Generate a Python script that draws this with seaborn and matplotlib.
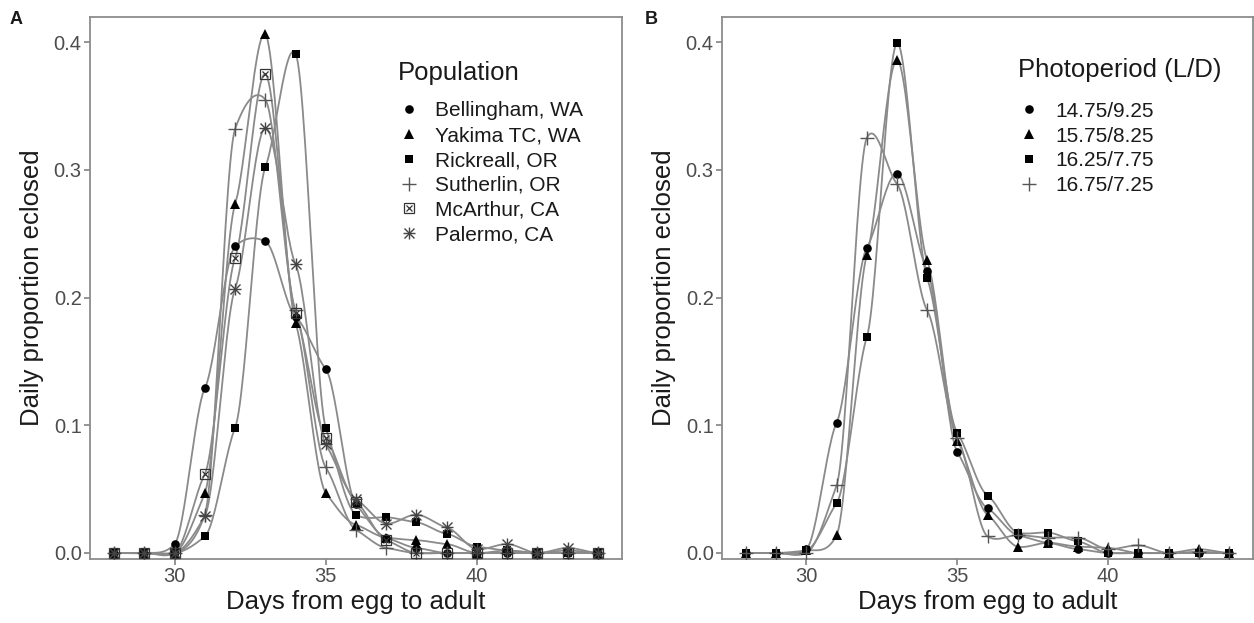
import numpy as np
import pandas as pd
import matplotlib
matplotlib.use("Agg")
import matplotlib.pyplot as plt
import seaborn as sns
from matplotlib.lines import Line2D
from matplotlib.legend_handler import HandlerTuple

# ---------------- data ----------------
days = list(range(28, 45))

# Panel A: populations
pop_names = ["Bellingham, WA", "Yakima TC, WA", "Rickreall, OR",
             "Sutherlin, OR", "McArthur, CA", "Palermo, CA"]
bellingham = [0, 0, 0.007, 0.129, 0.240, 0.244, 0.185, 0.144, 0.038, 0.012, 0.004, 0, 0, 0, 0, 0, 0]
yakima     = [0, 0, 0, 0.047, 0.273, 0.406, 0.180, 0.047, 0.022, 0.012, 0.010, 0.007, 0, 0.002, 0, 0.002, 0]
rickreall  = [0, 0, 0, 0.013, 0.098, 0.302, 0.391, 0.098, 0.030, 0.028, 0.024, 0.015, 0.005, 0.002, 0, 0, 0]
sutherlin  = [0, 0, 0, 0.030, 0.332, 0.355, 0.190, 0.067, 0.018, 0.004, 0, 0, 0, 0, 0, 0, 0]
mcarthur   = [0, 0, 0, 0.062, 0.231, 0.375, 0.188, 0.090, 0.040, 0.010, 0, 0, 0, 0, 0, 0, 0]
palermo    = [0, 0, 0, 0.029, 0.207, 0.333, 0.226, 0.085, 0.042, 0.023, 0.030, 0.020, 0.003, 0.007, 0, 0.004, 0]

# Panel B: photoperiods
photo_names = ["14.75/9.25", "15.75/8.25", "16.25/7.75", "16.75/7.25"]
p1475 = [0, 0, 0.003, 0.102, 0.239, 0.297, 0.221, 0.079, 0.035, 0.014, 0.008, 0.003, 0, 0, 0, 0, 0]
p1575 = [0, 0, 0.002, 0.014, 0.233, 0.386, 0.229, 0.088, 0.030, 0.005, 0.008, 0.005, 0.004, 0, 0, 0.003, 0]
p1625 = [0, 0, 0.002, 0.039, 0.169, 0.399, 0.215, 0.094, 0.045, 0.016, 0.016, 0.009, 0, 0, 0, 0, 0]
p1675 = [0, 0, 0, 0.053, 0.325, 0.289, 0.190, 0.090, 0.013, 0.014, 0.012, 0.012, 0.003, 0.006, 0, 0.001, 0]

x_ticks = [30, 35, 40]
y_ticks = [0.0, 0.1, 0.2, 0.3, 0.4]
x_label = "Days from egg to adult"
y_label = "Daily proportion eclosed"

# ---------------- helpers ----------------
LINE_C = "#8a8a8a"
AX_C = "#8c8c8c"
TXT_C = "#4d4d4d"


def smooth(x, y, n=25, k=0.4):
    """Cubic Hermite curve (damped Catmull-Rom tangents) through the data points."""
    x = np.asarray(x, float)
    y = np.asarray(y, float)
    m = np.empty_like(y)
    m[1:-1] = (y[2:] - y[:-2]) / (x[2:] - x[:-2])
    m[0] = (y[1] - y[0]) / (x[1] - x[0])
    m[-1] = (y[-1] - y[-2]) / (x[-1] - x[-2])
    m = m * k
    xs, ys = [], []
    for i in range(len(x) - 1):
        h = x[i + 1] - x[i]
        t = np.linspace(0, 1, n, endpoint=(i == len(x) - 2))
        h00 = 2 * t**3 - 3 * t**2 + 1
        h10 = t**3 - 2 * t**2 + t
        h01 = -2 * t**3 + 3 * t**2
        h11 = t**3 - t**2
        ys.append(h00 * y[i] + h10 * h * m[i] + h01 * y[i + 1] + h11 * h * m[i + 1])
        xs.append(x[i] + t * h)
    return np.concatenate(xs), np.concatenate(ys)


def mk_circle():
    return [dict(marker="o", ms=6.2, color="black", mew=0)]

def mk_tri():
    return [dict(marker="^", ms=6.8, color="black", mew=0)]

def mk_square():
    return [dict(marker="s", ms=6.0, color="black", mew=0)]

def mk_plus():
    return [dict(marker="+", ms=10, color="#555555", mew=1.0)]

def mk_boxx():
    return [dict(marker="s", ms=7.5, mfc="none", mec="#333333", mew=0.9, color="#333333"),
            dict(marker="x", ms=5.0, color="#333333", mew=0.9)]

def mk_star():
    return [dict(marker="+", ms=9, color="#444444", mew=1.0),
            dict(marker="x", ms=6.5, color="#444444", mew=1.0)]


def draw_panel(ax, names, series, markers):
    handles = []
    for name, vals in zip(names, series):
        xs, ys = smooth(days, vals)
        sns.lineplot(x=xs, y=ys, ax=ax, color=LINE_C, lw=1.3, sort=False,
                     estimator=None, zorder=2)
    for name, vals, mspec in zip(names, series, markers):
        parts = []
        for spec in mspec:
            ax.plot(days, vals, ls="none", zorder=3, **spec)
            parts.append(Line2D([], [], ls="none", **spec))
        handles.append(tuple(parts) if len(parts) > 1 else parts[0])
    return handles


def style_axes(ax):
    ax.set_xlim(27.2, 44.8)
    ax.set_ylim(-0.0047, 0.4196)
    ax.set_xticks(x_ticks)
    ax.set_yticks(y_ticks)
    ax.set_yticklabels([f"{v:.1f}" for v in y_ticks])
    ax.set_xlabel(x_label, fontsize=18.5, color="#1a1a1a", labelpad=3)
    ax.set_ylabel(y_label, fontsize=18.5, color="#1a1a1a", labelpad=7)
    ax.tick_params(axis="both", labelsize=14.5, colors=AX_C, labelcolor=TXT_C,
                   length=4, width=1.3, direction="out", pad=2,
                   bottom=True, left=True)
    for sp in ax.spines.values():
        sp.set_color(AX_C)
        sp.set_linewidth(1.3)
        sp.set_visible(True)


# ---------------- figure ----------------
sns.set_theme(style="ticks")
plt.rcParams["font.family"] = ["Liberation Sans", "DejaVu Sans"]

fig = plt.figure(figsize=(12.54, 6.23), dpi=100)
axA = fig.add_axes([90 / 1254, 64 / 623, 532 / 1254, 542 / 623])
axB = fig.add_axes([722 / 1254, 64 / 623, 531 / 1254, 542 / 623])

hA = draw_panel(axA, pop_names,
                [bellingham, yakima, rickreall, sutherlin, mcarthur, palermo],
                [mk_circle(), mk_tri(), mk_square(), mk_plus(), mk_boxx(), mk_star()])
hB = draw_panel(axB, photo_names,
                [p1475, p1575, p1625, p1675],
                [mk_circle(), mk_tri(), mk_square(), mk_plus()])

style_axes(axA)
style_axes(axB)

leg_kw = dict(loc="upper left", frameon=False, fontsize=15, title_fontsize=18.5,
              handler_map={tuple: HandlerTuple(ndivide=1)},
              handlelength=1.05, handletextpad=0.75, labelspacing=0.28,
              alignment="left", borderpad=0, borderaxespad=0)
legA = axA.legend(hA, pop_names, title="Population",
                  bbox_to_anchor=(0.5785, 0.918), **leg_kw)
legB = axB.legend(hB, photo_names, title="Photoperiod (L/D)",
                  bbox_to_anchor=(0.558, 0.925), **leg_kw)
legA._legend_box.sep = 11.5
legB._legend_box.sep = 14.5
for leg in (legA, legB):
    for t in leg.get_texts():
        t.set_color("#1a1a1a")
    leg.get_title().set_color("#1a1a1a")

fig.text(10 / 1254, 1 - 24 / 623, "A", fontsize=13, fontweight="bold", color="#1a1a1a")
fig.text(645 / 1254, 1 - 24 / 623, "B", fontsize=13, fontweight="bold", color="#1a1a1a")

fig.savefig("out.png", dpi=100)
